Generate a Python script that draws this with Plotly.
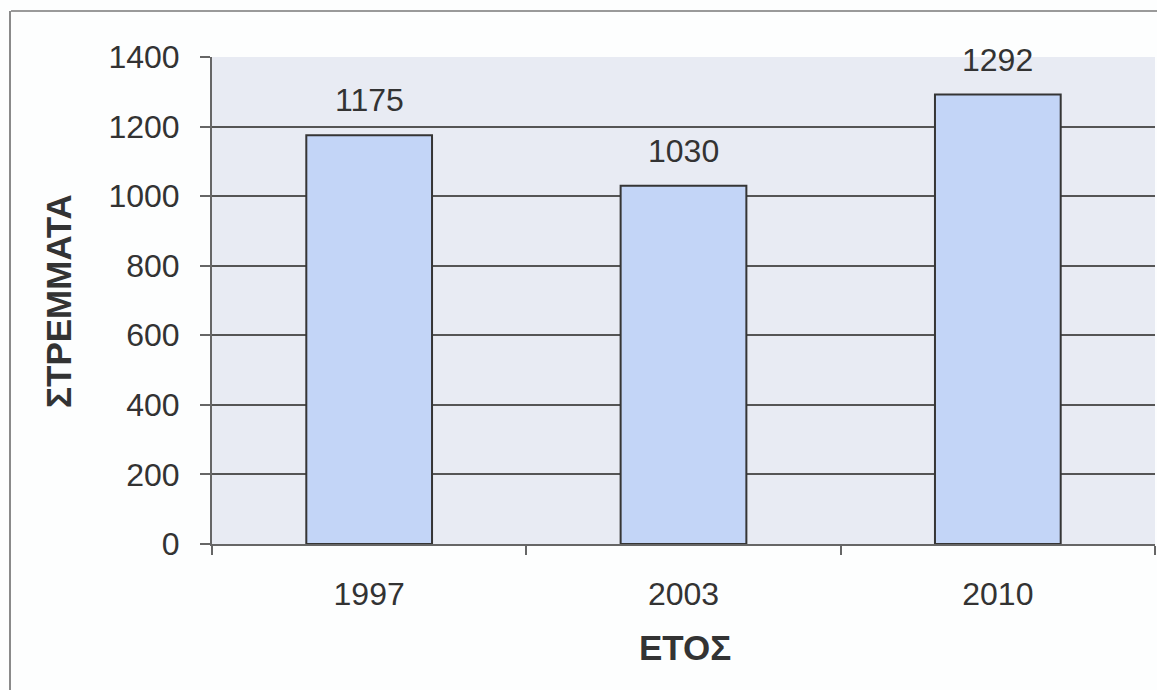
import plotly.graph_objects as go

years = ["1997", "2003", "2010"]
values = [1175, 1030, 1292]
y_ticks = [0, 200, 400, 600, 800, 1000, 1200, 1400]
x_title = "ΕΤΟΣ"
y_title = "ΣΤΡΕΜΜΑΤΑ"

W, H = 1157, 690
L, R, T, B = 212, 2, 57, 146
pw = W - L - R
ph = H - T - B

FONT = "Liberation Sans, Arial, sans-serif"
TXT = "#333333"
TICK = 32

fig = go.Figure()
fig.add_trace(go.Bar(
    x=years, y=values,
    width=0.4,
    marker=dict(color="#C3D5F7", line=dict(color="#353535", width=2)),
    showlegend=False,
))

for i, v in enumerate(values):
    fig.add_annotation(x=i, y=v, text=str(v), showarrow=False,
                       yanchor="bottom", yshift=15,
                       font=dict(family=FONT, size=TICK, color=TXT))

def px_x(x):
    return (x - L) / pw

def px_y(y):
    return (H - B - y) / ph

fig.add_annotation(xref="paper", yref="paper", x=px_x(58), y=px_y(301),
                   text=f"<b>{y_title}</b>", textangle=-90, showarrow=False,
                   xanchor="center", yanchor="middle",
                   font=dict(family=FONT, size=35, color=TXT))
fig.add_annotation(xref="paper", yref="paper", x=px_x(685), y=px_y(647),
                   text=f"<b>{x_title}</b>", showarrow=False,
                   xanchor="center", yanchor="middle",
                   font=dict(family=FONT, size=35, color=TXT))

# chart border (outer frame)
fig.add_shape(type="line", xref="paper", yref="paper",
              x0=px_x(11), x1=px_x(1157), y0=px_y(11), y1=px_y(11),
              line=dict(color="#9a9a9a", width=2))
fig.add_shape(type="line", xref="paper", yref="paper",
              x0=px_x(10), x1=px_x(10), y0=px_y(11), y1=px_y(690),
              line=dict(color="#8a8a8a", width=2))

fig.update_layout(
    width=W, height=H,
    margin=dict(l=L, r=R, t=T, b=B, pad=0),
    paper_bgcolor="#fdfefe",
    plot_bgcolor="#E8EBF3",
    font=dict(family=FONT, size=TICK, color=TXT),
)
fig.update_xaxes(
    type="category",
    range=[-0.5, len(years) - 0.5],
    tickangle=0,
    showline=True, linecolor="#666666", linewidth=2,
    ticks="outside", ticklen=9, tickwidth=1.5, tickcolor="#666666",
    tickson="boundaries",
    ticklabelstandoff=21,
    showgrid=False,
    tickfont=dict(family=FONT, size=TICK, color=TXT),
)
fig.update_yaxes(
    range=[0, 1400],
    tickvals=y_ticks,
    showline=True, linecolor="#666666", linewidth=2,
    ticks="outside", ticklen=10, tickwidth=1.5, tickcolor="#666666",
    ticklabelstandoff=14,
    showgrid=True, gridcolor="#555555", gridwidth=1.6,
    zeroline=False,
    tickfont=dict(family=FONT, size=TICK, color=TXT),
)

fig.write_html("out.html")
